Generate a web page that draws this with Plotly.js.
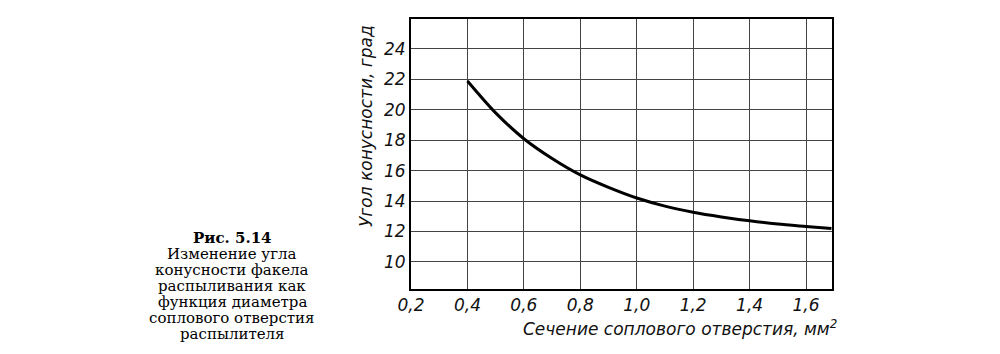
<!DOCTYPE html>
<html><head><meta charset="utf-8">
<script src="https://cdn.plot.ly/plotly-3.0.1.min.js"></script>
<style>body{margin:0;background:#fff}#c{width:1000px;height:354px}</style>
</head><body><div id="c"></div>
<script>
const section = [0.4, 0.5, 0.6, 0.7, 0.8, 0.9, 1.0, 1.1, 1.2, 1.3, 1.4, 1.5, 1.6, 1.69];
const angle   = [21.9, 19.8, 18.1, 16.8, 15.72, 14.9, 14.2, 13.67, 13.27, 12.96, 12.7, 12.49, 12.33, 12.19];
const xTicks = [0.2, 0.4, 0.6, 0.8, 1.0, 1.2, 1.4, 1.6];
const yTicks = [10, 12, 14, 16, 18, 20, 22, 24];
const captionLines = ['<b>Рис. 5.14</b>', 'Изменение угла', 'конусности факела', 'распыливания как', 'функция диаметра', 'соплового отверстия', 'распылителя'];
const xTitle = 'Сечение соплового отверстия, мм<sup>2</sup>';
const yTitle = 'Угол конусности, град';

const tickFont = {family: 'DejaVu Sans', size: 17, color: '#111', style: 'italic'};
const annotations = captionLines.map((t, i) => ({
  text: t, xref: 'paper', yref: 'paper', x: -0.425, y: (289 - (238 + i * 16)) / 270,
  xanchor: 'center', yanchor: 'middle', showarrow: false,
  font: {family: 'DejaVu Serif', size: 15, color: '#000'}
}));
annotations.push({text: xTitle, xref: 'paper', yref: 'paper', x: (680 - 411) / 421, y: (289 - 328) / 270,
  xanchor: 'center', yanchor: 'middle', showarrow: false, font: {family: 'DejaVu Sans', size: 17, color: '#111', style: 'italic'}});
annotations.push({text: yTitle, xref: 'paper', yref: 'paper', x: (366 - 411) / 421, y: (289 - 126) / 270,
  xanchor: 'center', yanchor: 'middle', textangle: -90, showarrow: false, font: {family: 'DejaVu Sans', size: 17, color: '#111', style: 'italic'}});

Plotly.newPlot('c', [{
  x: section, y: angle, mode: 'lines', type: 'scatter',
  line: {color: '#000', width: 3, shape: 'spline', smoothing: 0.8}, hoverinfo: 'skip'
}], {
  width: 1000, height: 354,
  margin: {l: 411, r: 168, t: 19, b: 65, pad: 0},
  paper_bgcolor: '#fff', plot_bgcolor: '#fff',
  separators: ', ',
  showlegend: false,
  xaxis: {range: [0.2, 1.692], tickvals: xTicks, tickformat: '.1f', showgrid: true, gridcolor: '#444', gridwidth: 1,
    showline: true, mirror: true, linecolor: '#000', linewidth: 2, zeroline: false, ticks: '', tickfont: tickFont, fixedrange: true},
  yaxis: {range: [8.22, 25.97], tickvals: yTicks, showgrid: true, gridcolor: '#444', gridwidth: 1,
    showline: true, mirror: true, linecolor: '#000', linewidth: 2, zeroline: false, ticks: '', tickfont: tickFont, fixedrange: true},
  annotations: annotations
}, {staticPlot: true});
</script></body></html>
